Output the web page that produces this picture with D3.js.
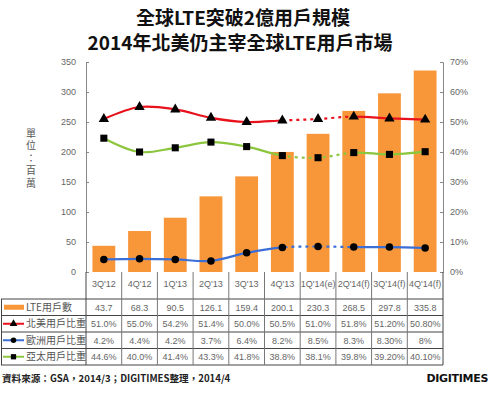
<!DOCTYPE html>
<html>
<head>
<meta charset="utf-8">
<script src="https://cdn.jsdelivr.net/npm/d3@7"></script>
<style>
  body { margin: 0; background: #fff; }
  svg { display: block; font-family: "Liberation Sans", "Noto Sans CJK TC", sans-serif; }
</style>
</head>
<body>
<svg id="chart" width="499" height="394"></svg>
<script>
// quarters on the x axis
const categories = ["3Q'12", "4Q'12", "1Q'13", "2Q'13", "3Q'13", "4Q'13", "1Q'14(e)", "2Q'14(f)", "3Q'14(f)", "4Q'14(f)"]
// LTE users, millions (bars, left axis)
const lteUsers = [43.7, 68.3, 90.5, 126.1, 159.4, 200.1, 230.3, 268.5, 297.8, 335.8]
// share by region, as printed in the table (lines, right axis)
const naShare = ["51.0%", "55.0%", "54.2%", "51.4%", "50.0%", "50.5%", "51.0%", "51.8%", "51.20%", "50.80%"]
const euShare = ["4.2%", "4.4%", "4.2%", "3.7%", "6.4%", "8.2%", "8.5%", "8.3%", "8.30%", "8%"]
const apShare = ["44.6%", "40.0%", "41.4%", "43.3%", "41.8%", "38.8%", "38.1%", "39.8%", "39.20%", "40.10%"]
const leftTicks = [0, 50, 100, 150, 200, 250, 300, 350]
const rightTicks = [0, 10, 20, 30, 40, 50, 60, 70]

const series = [
    {name: "北美用戶比重", labels: naShare, color: "#e8121c", symbol: d3.symbolTriangle, size: 46},
    {name: "歐洲用戶比重", labels: euShare, color: "#3b6fd6", symbol: d3.symbolCircle, size: 44},
    {name: "亞太用戶比重", labels: apShare, color: "#8cc63e", symbol: d3.symbolSquare, size: 50}
]
series.forEach(s => s.values = s.labels.map(v => parseFloat(v)))

const svg = d3.select("#chart")
const plotL = 86, plotR = 443, plotT = 62, plotB = 272
const barColor = "#f8973a"

// titles
svg.append("text").attr("x", 243).attr("y", 25).attr("text-anchor", "middle")
    .style("font-family", "'Noto Sans CJK TC', sans-serif").style("font-weight", "bold")
    .style("font-size", "19px").attr("fill", "#111").text("全球LTE突破2億用戶規模")
svg.append("text").attr("x", 240).attr("y", 50).attr("text-anchor", "middle")
    .style("font-family", "'Noto Sans CJK TC', sans-serif").style("font-weight", "bold")
    .style("font-size", "19px").attr("fill", "#111").text("2014年北美仍主宰全球LTE用戶市場")

const x = d3.scaleBand().domain(categories).range([plotL, plotR]).paddingInner(0.36).paddingOuter(0.18)
const xb = d3.scaleBand().domain(categories).range([plotL, plotR])
const y = d3.scaleLinear().domain([0, 350]).range([plotB, plotT])
const y2 = d3.scaleLinear().domain([0, 70]).range([plotB, plotT])

// axes
svg.append("g").attr("transform", `translate(${plotL},0)`)
    .call(d3.axisLeft(y).tickValues(leftTicks).tickSize(-3).tickPadding(10))
    .call(g => g.select(".domain").attr("stroke", "#888"))
    .call(g => g.selectAll(".tick line").attr("stroke", "#888"))
    .call(g => g.selectAll("text").attr("fill", "#666").style("font-size", "9px"))
svg.append("g").attr("transform", `translate(${plotR},0)`)
    .call(d3.axisRight(y2).tickValues(rightTicks).tickSize(-3).tickPadding(7).tickFormat(d => d + "%"))
    .call(g => g.select(".domain").attr("stroke", "#888"))
    .call(g => g.selectAll(".tick line").attr("stroke", "#888"))
    .call(g => g.selectAll("text").attr("fill", "#666").style("font-size", "9px"))

// unit label, written vertically
svg.append("text").attr("x", 31).attr("y", 128)
    .style("writing-mode", "vertical-rl").style("text-orientation", "upright")
    .style("letter-spacing", "2.5px")
    .attr("fill", "#555").style("font-family", "'Noto Sans CJK TC', sans-serif").style("font-size", "10px")
    .text("單位：百萬")

// bars
svg.selectAll(".bar").data(lteUsers).join("rect").attr("class", "bar")
    .attr("x", (d, i) => x(categories[i])).attr("width", x.bandwidth())
    .attr("y", d => y(d)).attr("height", d => plotB - y(d)).attr("fill", barColor)

// lines: solid for actuals, dotted for 4Q'13 -> 2Q'14, solid again for forecasts
const cx = i => xb(categories[i]) + xb.bandwidth() / 2
const defs = svg.append("defs")
const clip = (id, a, b) => defs.append("clipPath").attr("id", id).append("rect")
    .attr("x", a).attr("y", 0).attr("width", b - a).attr("height", 394)
clip("solidA", 0, cx(5))
clip("dash", cx(5), cx(7))
clip("solidB", cx(7), 499)

const line = d3.line().x((d, i) => cx(i)).y(d => y2(d)).curve(d3.curveCatmullRom)

series.forEach(s => {
    const g = svg.append("g")
    ;["solidA", "dash", "solidB"].forEach(c => {
        g.append("path").attr("d", line(s.values)).attr("fill", "none")
            .attr("stroke", s.color).attr("stroke-width", 2.2)
            .attr("stroke-dasharray", c === "dash" ? "3,4" : null)
            .attr("clip-path", `url(#${c})`)
    })
    g.selectAll("path.pt").data(s.values).join("path").attr("class", "pt")
        .attr("transform", (d, i) => `translate(${cx(i)},${y2(d)})`)
        .attr("d", d3.symbol().type(s.symbol).size(s.size)).attr("fill", "#000")
})

// data table
const rowTop = 299, rowH = 16.5
const rows = [{name: "LTE用戶數", labels: lteUsers.map(d => d.toFixed(1))}].concat(series)
const tbl = svg.append("g")

tbl.selectAll(".cat").data(categories).join("text").attr("class", "cat")
    .attr("x", d => xb(d) + xb.bandwidth() / 2).attr("y", 287).attr("text-anchor", "middle")
    .attr("fill", "#666").style("font-size", "9px").text(d => d)

rows.forEach((r, ri) => {
    const ty = rowTop + ri * rowH + rowH / 2 + 3.5
    tbl.selectAll(".v" + ri).data(r.labels).join("text").attr("class", "v" + ri)
        .attr("x", (d, i) => cx(i)).attr("y", ty).attr("text-anchor", "middle")
        .attr("fill", "#666").style("font-size", "9px").text(d => d)
    tbl.append("text").attr("x", 26).attr("y", ty).attr("fill", "#555")
        .style("font-family", "'Noto Sans CJK TC', sans-serif").style("font-size", "10px").text(r.name)
    const my = rowTop + ri * rowH + rowH / 2
    if (ri === 0) {
        tbl.append("rect").attr("x", 4).attr("y", my - 2.5).attr("width", 20).attr("height", 5).attr("fill", barColor)
    } else {
        tbl.append("line").attr("x1", 3).attr("x2", 24).attr("y1", my).attr("y2", my)
            .attr("stroke", r.color).attr("stroke-width", 2)
        tbl.append("path").attr("transform", `translate(13.5,${my})`)
            .attr("d", d3.symbol().type(r.symbol).size(r.size * 0.55)).attr("fill", "#000")
    }
})

const tableBottom = rowTop + rows.length * rowH
d3.range(rows.length + 1).forEach(i => {
    tbl.append("line").attr("x1", 1).attr("x2", plotR).attr("y1", rowTop + i * rowH).attr("y2", rowTop + i * rowH)
        .attr("stroke", "#444").attr("stroke-width", 1)
})
tbl.append("line").attr("x1", 1.5).attr("x2", 1.5).attr("y1", rowTop).attr("y2", tableBottom).attr("stroke", "#444")
categories.concat([null]).forEach((c, i) => {
    const lx = plotL + i * xb.bandwidth()
    tbl.append("line").attr("x1", lx).attr("x2", lx).attr("y1", plotB).attr("y2", tableBottom)
        .attr("stroke", i === 0 || i === categories.length ? "#444" : "#777").attr("stroke-width", 1)
})

// source + logo
svg.append("text").attr("x", 2).attr("y", 382).attr("fill", "#222")
    .style("font-family", "'Noto Sans CJK TC', sans-serif").style("font-size", "9.6px").style("font-weight", "bold")
    .text("資料來源：GSA，2014/3；DIGITIMES整理，2014/4")
svg.append("text").attr("x", 488).attr("y", 382).attr("text-anchor", "end").attr("fill", "#111")
    .style("font-family", "'DejaVu Sans', sans-serif").style("font-size", "11px").style("font-weight", "bold")
    .style("letter-spacing", "-0.3px").text("DIGITIMES")
</script>
</body>
</html>
